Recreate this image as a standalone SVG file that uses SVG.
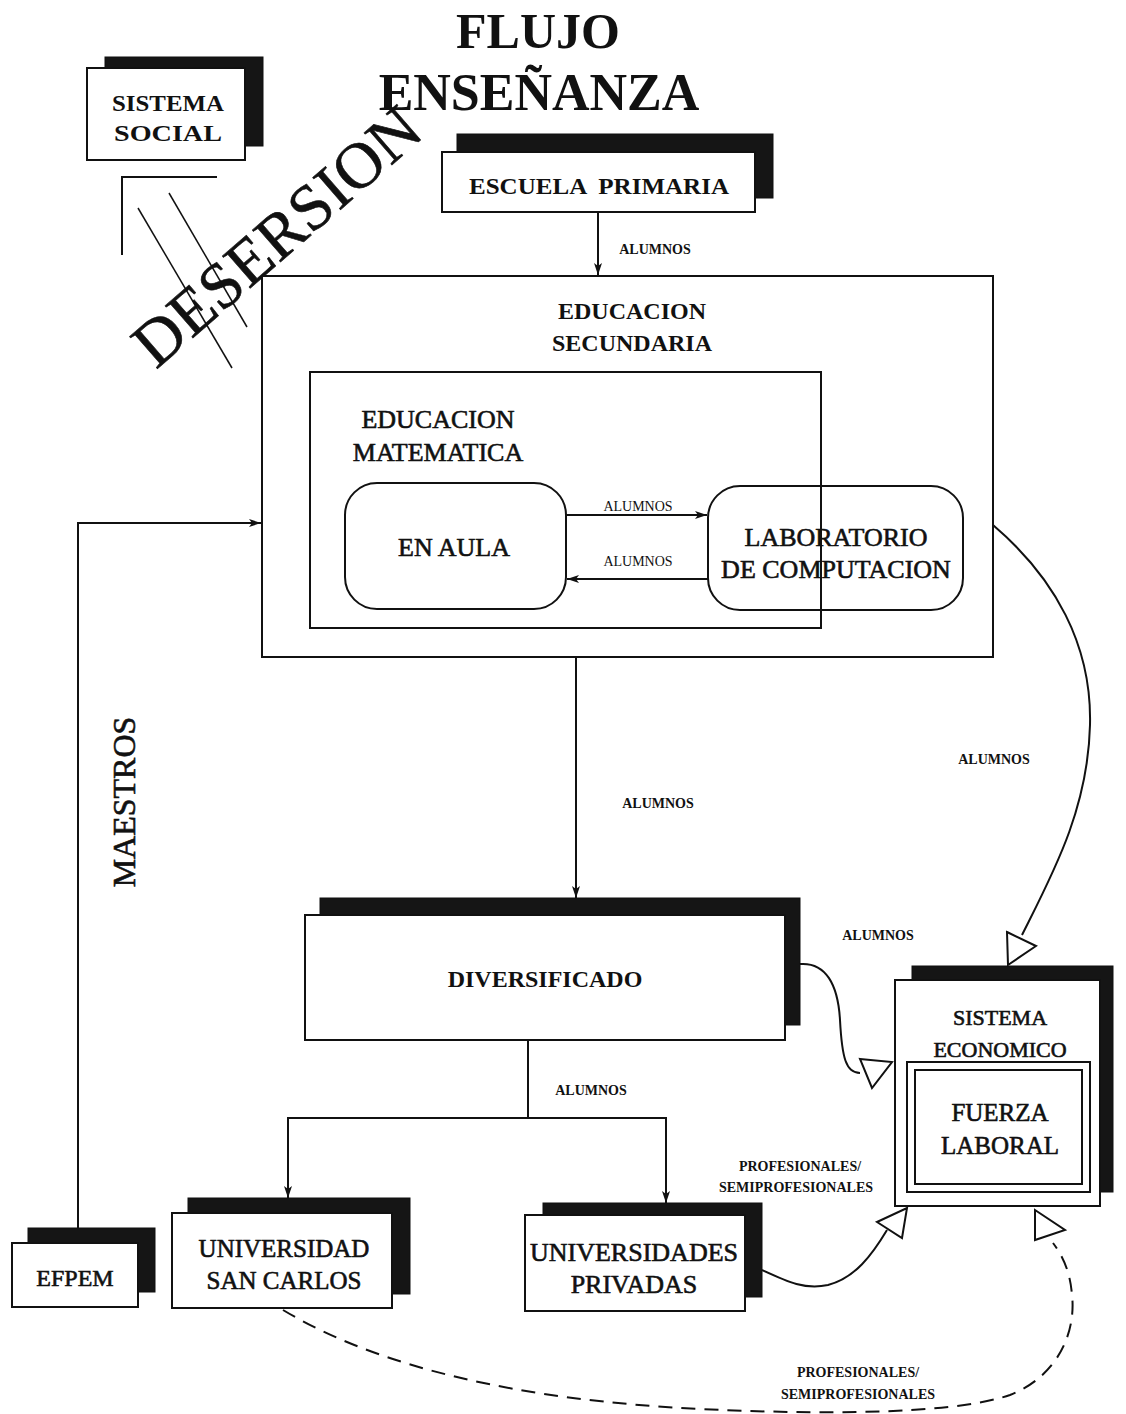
<svg xmlns="http://www.w3.org/2000/svg" width="1126" height="1414" viewBox="0 0 1126 1414">
  <defs>
    <marker id="ah" viewBox="0 0 12 10" refX="12" refY="5" markerWidth="12" markerHeight="10" markerUnits="userSpaceOnUse" orient="auto">
      <path d="M0,1 L12,5 L0,9 L3,5 Z" fill="#111"/>
    </marker>
    <style>
      text { font-family: "Liberation Serif", "Times New Roman", serif; fill: #111; }
      .box { fill: #fff; stroke: #111; stroke-width: 2; }
      .shadow { fill: #151515; stroke: #111; stroke-width: 1; }
      .plain { fill: none; stroke: #111; stroke-width: 2; }
      .wire { fill: none; stroke: #111; stroke-width: 2; }
      .dash { fill: none; stroke: #111; stroke-width: 2; stroke-dasharray: 14 9; }
      .open { fill: #fff; stroke: #111; stroke-width: 2; stroke-linejoin: miter; }
      .bold { font-weight: bold; }
      .heavy { stroke: #111; stroke-width: 0.6; }
      .mid { text-anchor: middle; }
      .lbl { font-size: 14px; font-weight: bold; text-anchor: middle; }
    </style>
  </defs>
  <rect width="1126" height="1414" fill="#fff"/>

  <!-- title -->
  <g id="title">
    <text x="538" y="48" class="bold mid" font-size="50">FLUJO</text>
    <text x="539" y="110" class="bold mid" font-size="52">ENSEÑANZA</text>
  </g>

  <!-- SISTEMA SOCIAL -->
  <g id="sistema-social">
    <rect class="shadow" x="105" y="57" width="158" height="89"/>
    <rect class="box" x="87" y="68" width="158" height="92"/>
    <text x="168" y="111" class="bold mid" font-size="23" textLength="112" lengthAdjust="spacingAndGlyphs">SISTEMA</text>
    <text x="168" y="141" class="bold mid" font-size="23" textLength="108" lengthAdjust="spacingAndGlyphs">SOCIAL</text>
  </g>

  <!-- dropout mark -->
  <g id="desercion">
    <path class="plain" d="M217,177 L122,177 L122,255"/>
    <line x1="138" y1="208" x2="232" y2="368" stroke="#111" stroke-width="1.5"/>
    <line x1="169" y1="193" x2="247" y2="327" stroke="#111" stroke-width="1.5"/>
    <text transform="translate(156,370) rotate(-41)" font-size="65" class="heavy">DESERSION</text>
  </g>

  <!-- ESCUELA PRIMARIA -->
  <g id="escuela-primaria">
    <rect class="shadow" x="457" y="134" width="316" height="64"/>
    <rect class="box" x="442" y="152" width="313" height="60"/>
    <text x="599" y="194" class="bold mid" font-size="24" xml:space="preserve" textLength="260" lengthAdjust="spacingAndGlyphs">ESCUELA  PRIMARIA</text>
  </g>

  <!-- EDUCACION SECUNDARIA -->
  <g id="educacion-secundaria">
    <rect class="box" x="262" y="276" width="731" height="381"/>
    <text x="632" y="319" class="bold mid" font-size="24">EDUCACION</text>
    <text x="632" y="351" class="bold mid" font-size="24">SECUNDARIA</text>
  </g>

  <!-- EDUCACION MATEMATICA -->
  <g id="educacion-matematica">
    <rect class="plain" x="310" y="372" width="511" height="256"/>
    <text x="438" y="428" class="mid heavy" font-size="26">EDUCACION</text>
    <text x="438" y="461" class="mid heavy" font-size="26">MATEMATICA</text>
  </g>

  <!-- EN AULA -->
  <g id="en-aula">
    <rect class="plain" x="345" y="483" width="221" height="126" rx="32"/>
    <text x="454" y="556" class="mid heavy" font-size="26">EN AULA</text>
  </g>

  <!-- LABORATORIO DE COMPUTACION -->
  <g id="laboratorio">
    <rect class="plain" x="708" y="486" width="255" height="124" rx="32"/>
    <text x="836" y="546" class="mid heavy" font-size="26">LABORATORIO</text>
    <text x="836" y="578" class="mid heavy" font-size="26">DE COMPUTACION</text>
  </g>

  <!-- DIVERSIFICADO -->
  <g id="diversificado">
    <rect class="shadow" x="320" y="898" width="480" height="127"/>
    <rect class="box" x="305" y="915" width="480" height="125"/>
    <text x="545" y="987" class="bold mid" font-size="24">DIVERSIFICADO</text>
  </g>

  <!-- SISTEMA ECONOMICO / FUERZA LABORAL -->
  <g id="sistema-economico">
    <rect class="shadow" x="912" y="966" width="201" height="226"/>
    <rect class="box" x="895" y="980" width="205" height="226"/>
    <text x="1000" y="1025" class="mid heavy" font-size="22">SISTEMA</text>
    <text x="1000" y="1057" class="mid heavy" font-size="22">ECONOMICO</text>
    <rect class="plain" x="907" y="1062" width="183" height="130"/>
    <rect class="plain" x="915" y="1070" width="167" height="114"/>
  </g>
  <g id="fuerza-laboral">
    <text x="1000" y="1121" class="mid heavy" font-size="25">FUERZA</text>
    <text x="1000" y="1154" class="mid heavy" font-size="25">LABORAL</text>
  </g>

  <!-- EFPEM -->
  <g id="efpem">
    <rect class="shadow" x="28" y="1228" width="127" height="64"/>
    <rect class="box" x="12" y="1243" width="126" height="64"/>
    <text x="75" y="1286" class="mid heavy" font-size="24">EFPEM</text>
  </g>

  <!-- UNIVERSIDAD SAN CARLOS -->
  <g id="universidad-san-carlos">
    <rect class="shadow" x="188" y="1198" width="222" height="96"/>
    <rect class="box" x="172" y="1213" width="220" height="95"/>
    <text x="284" y="1257" class="mid heavy" font-size="25">UNIVERSIDAD</text>
    <text x="284" y="1289" class="mid heavy" font-size="25">SAN CARLOS</text>
  </g>

  <!-- UNIVERSIDADES PRIVADAS -->
  <g id="universidades-privadas">
    <rect class="shadow" x="543" y="1203" width="219" height="94"/>
    <rect class="box" x="525" y="1215" width="220" height="96"/>
    <text x="634" y="1261" class="mid heavy" font-size="26">UNIVERSIDADES</text>
    <text x="634" y="1293" class="mid heavy" font-size="26">PRIVADAS</text>
  </g>

  <!-- connectors -->
  <g id="connectors">
    <line class="wire" x1="598" y1="212" x2="598" y2="275" marker-end="url(#ah)"/>
    <text x="655" y="254" class="lbl" font-size="13">ALUMNOS</text>

    <line class="wire" x1="566" y1="515" x2="707" y2="515" marker-end="url(#ah)"/>
    <text x="638" y="511" class="mid" font-size="14">ALUMNOS</text>
    <line class="wire" x1="708" y1="579" x2="567" y2="579" marker-end="url(#ah)"/>
    <text x="638" y="566" class="mid" font-size="14">ALUMNOS</text>

    <polyline class="wire" points="78,1228 78,523 261,523" marker-end="url(#ah)"/>
    <text transform="translate(135,802) rotate(-90)" class="mid heavy" font-size="32">MAESTROS</text>

    <line class="wire" x1="576" y1="657" x2="576" y2="898" marker-end="url(#ah)"/>
    <text x="658" y="808" class="lbl">ALUMNOS</text>

    <path class="wire" d="M993,525 C1055,578 1092,645 1090,725 C1088,810 1052,875 1022,935"/>
    <polygon class="open" points="1007,932 1036,946 1008,965"/>
    <text x="994" y="764" class="lbl">ALUMNOS</text>

    <path class="wire" d="M800,964 C826,962 838,985 840,1020 C842,1058 846,1073 860,1073"/>
    <polygon class="open" points="860,1059 892,1062 872,1088"/>
    <text x="878" y="940" class="lbl">ALUMNOS</text>

    <line class="wire" x1="528" y1="1040" x2="528" y2="1118"/>
    <line class="wire" x1="287" y1="1118" x2="667" y2="1118"/>
    <line class="wire" x1="288" y1="1118" x2="288" y2="1198" marker-end="url(#ah)"/>
    <line class="wire" x1="666" y1="1118" x2="666" y2="1203" marker-end="url(#ah)"/>
    <text x="591" y="1095" class="lbl" font-size="13">ALUMNOS</text>

    <path class="wire" d="M762,1270 C788,1282 805,1290 828,1285 C855,1278 872,1255 887,1230"/>
    <polygon class="open" points="877,1222 907,1208 902,1238"/>
    <text x="800" y="1171" class="lbl">PROFESIONALES/</text>
    <text x="796" y="1192" class="lbl">SEMIPROFESIONALES</text>

    <path class="dash" d="M283,1310 C380,1368 520,1400 700,1409 C850,1416 960,1412 1010,1395 C1060,1375 1076,1330 1072,1295 C1070,1270 1062,1255 1053,1243"/>
    <polygon class="open" points="1035,1210 1065,1230 1035,1240"/>
    <text x="858" y="1377" class="lbl">PROFESIONALES/</text>
    <text x="858" y="1399" class="lbl">SEMIPROFESIONALES</text>
  </g>
</svg>
